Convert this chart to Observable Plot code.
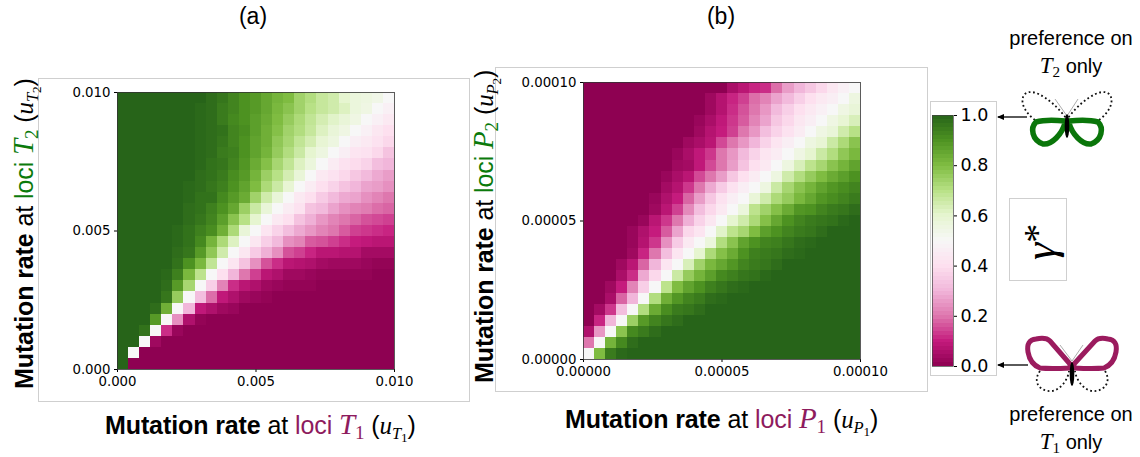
<!DOCTYPE html>
<html><head><meta charset="utf-8">
<script src="https://cdn.jsdelivr.net/npm/d3@7"></script>
<script src="https://cdn.jsdelivr.net/npm/@observablehq/plot@0.6"></script>
<style>
html,body{margin:0;padding:0;background:#fff;overflow:hidden}
#stage{position:relative;width:1140px;height:457px;font-family:"Liberation Sans",Arial,sans-serif;color:#000}
.box{position:absolute;border:1px solid #cfcfcf;box-sizing:border-box;background:#fff}
.chart{position:absolute}
.chart svg{display:block;background:transparent}
.t{position:absolute;white-space:nowrap;line-height:1}
.lab{font-size:25px;letter-spacing:-.1px}
.lab b{font-weight:700}
.m{font-family:"Liberation Serif",serif;font-style:italic;font-size:29px}
.m sub,.u sub{font-size:.66em;line-height:0;vertical-align:-.28em}
.m sub,.u sub sub{font-style:normal}
.u{font-family:"Liberation Serif",serif;font-style:italic}
.u sub sub{font-size:.8em;vertical-align:-.2em}
.pink{color:#8e1b5e}.green{color:#0b7a0b}
.rot{transform-origin:0 0;transform:rotate(-90deg)}
.c{transform:translateX(-50%)}
.cap{font-size:20px}
.cap .m{font-size:23px}
</style></head>
<body>
<div id="stage">
  <div class="box" style="left:38px;top:78px;width:432px;height:324px"></div>
  <div class="box" style="left:495px;top:67px;width:433px;height:325px"></div>
  <div class="box" style="left:930px;top:101px;width:67px;height:275px"></div>
  <div class="box" style="left:1009px;top:198px;width:58px;height:83px"></div>
  <div class="t c" style="left:253px;top:5px;font-size:23px">(a)</div>
  <div class="t c" style="left:721px;top:5px;font-size:23px">(b)</div>
  <div class="t lab" style="left:105px;top:410px"><b>Mutation rate</b> at <span class="pink">loci <span class="m">T<sub>1</sub></span></span> (<span class="u">u<sub>T<sub>1</sub></sub></span>)</div>
  <div class="t lab rot" style="left:9px;top:389px"><b>Mutation rate</b> at <span class="green">loci <span class="m">T<sub>2</sub></span></span> (<span class="u">u<sub>T<sub>2</sub></sub></span>)</div>
  <div class="t lab" style="left:565px;top:404px"><b>Mutation rate</b> at <span class="pink">loci <span class="m">P<sub>1</sub></span></span> (<span class="u">u<sub>P<sub>1</sub></sub></span>)</div>
  <div class="t lab rot" style="left:469px;top:383px"><b>Mutation rate</b> at <span class="green">loci <span class="m">P<sub>2</sub></span></span> (<span class="u">u<sub>P<sub>2</sub></sub></span>)</div>
  <div class="t cap c" style="left:1071px;top:28px">preference on</div>
  <div class="t cap c" style="left:1071px;top:54px"><span class="m">T<sub>2</sub></span> only</div>
  <div class="t cap c" style="left:1071px;top:404px">preference on</div>
  <div class="t cap c" style="left:1071px;top:430px"><span class="m">T<sub>1</sub></span> only</div>
  <div class="t rot" style="left:1019px;top:260px;font-family:'Liberation Serif',serif;font-style:italic;font-size:44px">γ<span style="font-size:38px;font-style:normal;position:relative;top:-5px">*</span></div>
  <svg id="icons" width="1140" height="457" style="position:absolute;left:0;top:0;pointer-events:none">
    <defs><marker id="ah" markerUnits="userSpaceOnUse" markerWidth="7" markerHeight="6" refX="6" refY="3" orient="auto"><path d="M0,0L7,3L0,6Z" fill="#000"/></marker></defs>
    <g fill="none">
      <path d="M1035,120C1024,112 1019,100 1025,94C1034,86 1056,104 1066,118" stroke="#111" stroke-width="1.8" stroke-dasharray="1.8 2.6"/>
      <path d="M1099,120C1110,112 1115,100 1109,94C1100,86 1078,104 1068,118" stroke="#111" stroke-width="1.8" stroke-dasharray="1.8 2.6"/>
      <path d="M1065,121C1055,120 1043,120 1036,122C1030,128 1032,140 1043,144C1052,145 1062,134 1065,123Z" stroke="#0a760a" stroke-width="5.5"/>
      <path d="M1069,121C1079,120 1091,120 1098,122C1104,128 1102,140 1091,144C1082,145 1072,134 1069,123Z" stroke="#0a760a" stroke-width="5.5"/>
      <path d="M1067,116L1055,99M1067,116L1078,99" stroke="#888" stroke-width=".7"/>
      <path d="M1027,117L998,117" stroke="#000" stroke-width="1.3" marker-end="url(#ah)"/>
      <path d="M1070,364L1050,341Q1046,337 1036,339Q1026,340 1028,352Q1030,364 1040,368Q1050,369 1070,368Z" stroke="#9b1b5e" stroke-width="5"/>
      <path d="M1074,364L1095,341Q1099,337 1108,339Q1118,340 1116,352Q1114,364 1104,368Q1094,369 1074,368Z" stroke="#9b1b5e" stroke-width="5"/>
      <path d="M1040,371C1032,382 1040,392 1052,391C1060,390 1068,380 1069,371" stroke="#111" stroke-width="1.8" stroke-dasharray="1.8 2.6"/>
      <path d="M1105,371C1112,382 1104,392 1092,391C1084,390 1076,380 1075,371" stroke="#111" stroke-width="1.8" stroke-dasharray="1.8 2.6"/>
      <path d="M1072,361L1060,345M1072,361L1083,345" stroke="#888" stroke-width=".7"/>
      <path d="M1028,365L998,365" stroke="#000" stroke-width="1.3" marker-end="url(#ah)"/>
    </g>
    <ellipse cx="1067" cy="126" rx="2.3" ry="12" fill="#000"/>
    <ellipse cx="1072" cy="374" rx="2.3" ry="12" fill="#000"/>
  </svg>
</div>
<script>
const gridSize = 25;
const maxA = 0.010;
const maxB = 0.00010;
const ticksA = [0, 0.005, 0.010];
const ticksB = [0, 0.00005, 0.00010];
const barTicks = [0, 0.2, 0.4, 0.6, 0.8, 1.0];
const colorStops = [0, 0.1, 0.2, 0.3, 0.4, 0.5, 0.6, 0.7, 0.8, 0.9, 1];
const colorHexes = ["#8e0152","#c51b7d","#de77ae","#f1b6da","#fde0ef","#f7f7f7","#e6f5d0","#b8e186","#7fbc41","#4d9221","#276419"];

// percent values, rows from top (highest mutation rate) to bottom, columns left to right
const panelA = [
[100,100,100,100,100,100,100,100,98,96,93,90,88,85,82,80,74,71,67,65,60,57,56,54,50],
[100,100,100,100,100,100,100,99,98,95,93,90,88,85,81,78,74,70,67,65,62,57,55,50,47],
[100,100,100,100,100,100,100,99,98,95,92,90,87,84,80,76,72,68,64,61,58,55,50,47,44],
[100,100,100,100,100,100,100,99,98,97,93,91,87,83,79,74,71,67,62,58,55,50,47,43,40],
[100,100,100,100,100,100,100,99,98,96,93,90,86,83,77,73,68,64,59,56,50,46,44,41,38],
[100,100,100,100,100,100,100,99,98,95,94,90,86,82,76,71,66,60,56,50,46,42,41,38,33],
[100,100,100,100,100,100,100,99,97,96,93,89,84,79,73,68,62,57,50,45,41,39,37,32,30],
[100,100,100,100,100,100,100,98,97,95,91,88,82,75,70,64,58,50,44,41,38,34,31,28,26],
[100,100,100,100,100,100,99,98,96,94,90,86,80,72,66,59,50,45,40,37,33,30,27,26,24],
[100,100,100,100,100,100,99,97,97,92,88,84,74,65,58,50,44,40,35,31,28,27,24,22,20],
[100,100,100,100,100,100,98,97,94,90,85,75,66,58,50,45,41,33,31,27,24,22,21,19,18],
[100,100,100,100,100,100,98,96,93,87,78,70,60,50,44,40,33,29,25,22,20,18,16,15,14],
[100,100,100,100,100,99,97,94,91,83,72,58,50,42,37,32,28,25,22,20,17,14,13,12,11],
[100,100,100,100,100,99,97,92,82,72,62,50,43,36,31,24,22,17,16,14,12,10,9,8,8],
[100,100,100,100,100,98,96,88,77,65,50,43,35,29,24,16,14,11,8,8,7,7,4,4,4],
[100,100,100,100,100,97,90,81,68,50,42,33,24,16,12,8,7,6,4,3,3,3,2,1,1],
[100,100,100,100,99,94,81,69,50,40,30,20,14,8,6,3,3,2,1,1,1,1,1,0,0],
[100,100,100,100,98,88,73,50,36,22,12,8,6,3,2,1,1,1,0,0,0,0,0,0,0],
[100,100,100,100,96,76,50,32,19,9,6,3,2,1,0,0,0,0,0,0,0,0,0,0,0],
[100,100,100,98,83,50,30,9,6,3,2,0,0,0,0,0,0,0,0,0,0,0,0,0,0],
[100,100,100,88,50,24,6,1,0,0,0,0,0,0,0,0,0,0,0,0,0,0,0,0,0],
[100,100,97,50,12,2,0,0,0,0,0,0,0,0,0,0,0,0,0,0,0,0,0,0,0],
[100,100,50,3,0,0,0,0,0,0,0,0,0,0,0,0,0,0,0,0,0,0,0,0,0],
[100,50,0,0,0,0,0,0,0,0,0,0,0,0,0,0,0,0,0,0,0,0,0,0,0],
[100,0,0,0,0,0,0,0,0,0,0,0,0,0,0,0,0,0,0,0,0,0,0,0,0]
];

const panelB = [
[0,0,0,0,0,0,0,0,0,0,0,0,0,5,8,11,12,19,26,30,34,38,43,47,50],
[0,0,0,0,0,0,0,0,0,0,0,3,7,11,14,19,22,27,31,36,40,44,46,50,56],
[0,0,0,0,0,0,0,0,0,0,0,3,7,12,16,20,25,31,36,40,44,47,50,55,58],
[0,0,0,0,0,0,0,0,0,0,2,5,9,13,17,22,27,34,38,43,46,50,55,59,63],
[0,0,0,0,0,0,0,0,0,0,3,7,10,14,20,25,32,37,41,45,50,55,58,65,70],
[0,0,0,0,0,0,0,0,0,3,5,8,15,20,25,30,37,42,46,50,56,59,66,72,78],
[0,0,0,0,0,0,0,0,2,5,9,13,20,25,31,37,42,45,50,55,60,66,71,77,81],
[0,0,0,0,0,0,0,0,3,4,9,15,20,26,33,40,44,50,56,63,69,73,78,82,86],
[0,0,0,0,0,0,0,2,5,8,15,20,26,34,40,45,50,56,65,71,76,80,84,87,90],
[0,0,0,0,0,0,0,4,7,13,20,28,35,41,46,50,56,66,73,78,82,86,89,91,93],
[0,0,0,0,0,0,2,6,10,18,26,34,41,46,50,58,65,72,76,81,85,89,91,93,95],
[0,0,0,0,0,0,3,8,14,23,32,38,44,50,57,69,74,79,84,89,90,93,95,96,98],
[0,0,0,0,0,2,8,13,20,29,37,43,50,60,65,72,79,85,90,93,95,96,97,99,100],
[0,0,0,0,2,6,10,17,27,38,42,50,61,69,73,80,87,90,93,95,96,98,100,100,100],
[0,0,0,0,2,7,13,24,35,44,50,57,71,78,86,90,93,94,96,98,99,100,100,100,100],
[0,0,0,0,3,11,20,32,42,50,60,72,79,84,90,94,95,96,98,99,100,100,100,100,100],
[0,0,0,3,8,18,30,42,50,63,74,81,85,89,93,95,96,98,100,100,100,100,100,100,100],
[0,0,0,5,12,28,38,50,66,76,82,87,92,94,96,97,99,100,100,100,100,100,100,100,100],
[0,0,3,10,22,36,50,69,80,86,90,94,96,98,99,100,100,100,100,100,100,100,100,100,100],
[0,0,5,18,30,50,71,83,89,93,95,98,99,100,100,100,100,100,100,100,100,100,100,100,100],
[0,4,13,32,50,71,84,91,95,96,98,100,100,100,100,100,100,100,100,100,100,100,100,100,100],
[0,11,30,50,75,88,93,96,98,100,100,100,100,100,100,100,100,100,100,100,100,100,100,100,100],
[6,25,50,78,92,95,98,100,100,100,100,100,100,100,100,100,100,100,100,100,100,100,100,100,100],
[20,50,82,92,98,100,100,100,100,100,100,100,100,100,100,100,100,100,100,100,100,100,100,100,100],
[50,80,95,99,100,100,100,100,100,100,100,100,100,100,100,100,100,100,100,100,100,100,100,100,100]
];

const color = {type: "linear", domain: colorStops, range: colorHexes};
const tickFont = {fontFamily: "'DejaVu Sans',sans-serif", fontSize: "13.3px", color: "#000"};
const place = (node, left, top) => {
  const w = document.createElement("div");
  w.className = "chart"; w.style.left = left + "px"; w.style.top = top + "px";
  w.appendChild(node); document.getElementById("stage").appendChild(w);
};
function cellsOf(rows, max) {
  const step = max / gridSize, out = [];
  rows.forEach((row, r) => row.forEach((v, c) => out.push({
    x1: c * step, x2: (c + 1) * step,
    y1: (gridSize - 1 - r) * step, y2: (gridSize - r) * step, v: v / 100
  })));
  return out;
}
function heat(rows, max, ticks, fmt, left, top, marginLeft) {
  const size = 277;
  place(Plot.plot({
    width: size + marginLeft + 32, height: size + 12 + 26,
    marginLeft, marginRight: 32, marginTop: 12, marginBottom: 26,
    style: tickFont,
    x: {domain: [0, max], ticks, tickFormat: fmt, tickSize: 3, tickPadding: 4, label: null},
    y: {domain: [0, max], ticks, tickFormat: fmt, tickSize: 3, tickPadding: 4, label: null},
    color,
    marks: [
      Plot.rect(cellsOf(rows, max), {x1: "x1", x2: "x2", y1: "y1", y2: "y2", fill: "v", shapeRendering: "crispEdges"}),
      Plot.frame({stroke: "#333", strokeWidth: 0.8})
    ]
  }), left - marginLeft, top - 12);
}
heat(panelA, maxA, ticksA, d3.format(".3f"), 117, 92, 66);
heat(panelB, maxB, ticksB, d3.format(".5f"), 583, 82, 66);

const barLevels = d3.range(0, 64).map(i => ({y1: i / 64, y2: (i + 1) / 64, v: (i + 0.5) / 64}));
place(Plot.plot({
  width: 66, height: 251 + 20,
  marginLeft: 2, marginRight: 43, marginTop: 10, marginBottom: 10,
  style: {fontFamily: "'DejaVu Sans',sans-serif", fontSize: "17.5px", color: "#000"},
  x: {axis: null, domain: [0, 1]},
  y: {domain: [0, 1], ticks: barTicks, tickFormat: d3.format(".1f"), axis: "right", tickSize: 3, tickPadding: 4, label: null},
  color,
  marks: [
    Plot.rect(barLevels, {x1: 0, x2: 1, y1: "y1", y2: "y2", fill: "v", shapeRendering: "crispEdges"}),
    Plot.frame({stroke: "#444", strokeWidth: 0.7})
  ]
}), 930, 105);
</script>
</body></html>
